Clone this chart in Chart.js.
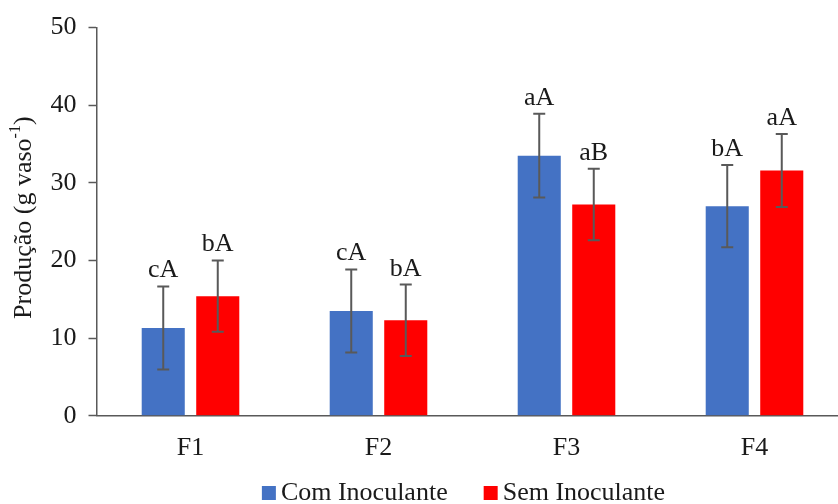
<!DOCTYPE html>
<html>
<head>
<meta charset="utf-8">
<script src="https://cdn.jsdelivr.net/npm/chart.js@4"></script>
<style>
html,body{margin:0;padding:0;background:#fff;overflow:hidden;width:838px;height:504px;}
#wrap{width:850px;height:504px;}
</style>
</head>
<body>
<div id="wrap"><canvas id="c" width="850" height="504"></canvas></div>
<script>
const categories = ['F1', 'F2', 'F3', 'F4'];
const comValues = [11.3, 13.5, 33.5, 27.0];
const comErrors = [5.35, 5.35, 5.4, 5.3];
const semValues = [15.4, 12.3, 27.2, 31.6];
const semErrors = [4.6, 4.6, 4.6, 4.7];
const comLetters = ['cA', 'cA', 'aA', 'bA'];
const semLetters = ['bA', 'bA', 'aB', 'aA'];
const yTicks = [0, 10, 20, 30, 40, 50];
const seriesNames = ['Com Inoculante', 'Sem Inoculante'];

const FONT = "'Liberation Serif', 'Times New Roman', serif";
const TXT = '#1a1a1a';
const AXIS = '#595959';
const BLUE = '#4472C4';
const RED = '#FF0000';

const errs = [comErrors, semErrors];
const letters = [comLetters, semLetters];

const overlay = {
  id: 'overlay',
  afterDatasetsDraw(chart) {
    const ctx = chart.ctx;
    const y = chart.scales.y;
    ctx.save();
    chart.data.datasets.forEach((ds, di) => {
      const meta = chart.getDatasetMeta(di);
      meta.data.forEach((bar, i) => {
        const v = ds.data[i];
        const e = errs[di][i];
        const yt = y.getPixelForValue(v + e);
        const yb = y.getPixelForValue(v - e);
        const x = bar.x;
        ctx.strokeStyle = AXIS;
        ctx.lineWidth = 2;
        ctx.beginPath();
        ctx.moveTo(x, yt); ctx.lineTo(x, yb);
        ctx.moveTo(x - 6, yt); ctx.lineTo(x + 6, yt);
        ctx.moveTo(x - 6, yb); ctx.lineTo(x + 6, yb);
        ctx.stroke();
        ctx.fillStyle = TXT;
        ctx.font = '26px ' + FONT;
        ctx.textAlign = 'center';
        ctx.textBaseline = 'alphabetic';
        ctx.fillText(letters[di][i], x, yt - 9);
      });
    });
    ctx.restore();
  },
  afterDraw(chart) {
    const ctx = chart.ctx;
    const a = chart.chartArea;
    ctx.save();
    // Y axis title with superscript
    ctx.translate(24, (a.top + a.bottom) / 2 - 4);
    ctx.rotate(-Math.PI / 2);
    ctx.fillStyle = TXT;
    ctx.textBaseline = 'middle';
    ctx.textAlign = 'left';
    const main = 'Produção (g vaso';
    const sup = '-1';
    const end = ')';
    ctx.font = '26px ' + FONT;
    const w1 = ctx.measureText(main).width;
    const w3 = ctx.measureText(end).width;
    ctx.font = '16px ' + FONT;
    const w2 = ctx.measureText(sup).width;
    const total = w1 + w2 + w3;
    let x = -total / 2;
    ctx.font = '26px ' + FONT;
    ctx.fillText(main, x, 0);
    x += w1;
    ctx.font = '16px ' + FONT;
    ctx.fillText(sup, x, -8);
    x += w2;
    ctx.font = '26px ' + FONT;
    ctx.fillText(end, x, 0);
    ctx.restore();

    // Legend
    ctx.save();
    ctx.font = '26px ' + FONT;
    ctx.textBaseline = 'alphabetic';
    ctx.textAlign = 'left';
    const sq = 14, gap = 5, spacing = 36;
    const tw = seriesNames.map(n => ctx.measureText(n).width);
    const totalW = sq + gap + tw[0] + spacing + sq + gap + tw[1];
    let lx = (a.left + a.right) / 2 - 9 - totalW / 2;
    const baseY = 500;
    const colors = [BLUE, RED];
    seriesNames.forEach((n, i) => {
      ctx.fillStyle = colors[i];
      ctx.fillRect(lx, baseY - 14, sq, sq);
      lx += sq + gap;
      ctx.fillStyle = TXT;
      ctx.fillText(n, lx, baseY);
      lx += tw[i] + spacing;
    });
    ctx.restore();
  }
};

new Chart(document.getElementById('c'), {
  type: 'bar',
  data: {
    labels: categories,
    datasets: [
      { label: seriesNames[0], data: comValues, backgroundColor: BLUE, categoryPercentage: 0.58, barPercentage: 0.79 },
      { label: seriesNames[1], data: semValues, backgroundColor: RED, categoryPercentage: 0.58, barPercentage: 0.79 }
    ]
  },
  options: {
    responsive: false,
    animation: false,
    devicePixelRatio: 1,
    layout: { padding: { top: 26.7, right: 1.5, left: 0, bottom: 0 } },
    plugins: { legend: { display: false }, tooltip: { enabled: false }, title: { display: false } },
    scales: {
      x: {
        grid: { display: true, drawOnChartArea: false, drawTicks: false },
        border: { color: AXIS, width: 1.5 },
        ticks: { color: TXT, font: { family: FONT, size: 26 }, padding: 17 },
        afterFit(s) { s.height = 88.3; }
      },
      y: {
        min: 0, max: 50,
        afterBuildTicks(s) { s.ticks = yTicks.map(v => ({ value: v })); },
        grid: { display: true, drawOnChartArea: false, drawTicks: true, tickLength: 8, color: AXIS, tickWidth: 1.5 },
        border: { color: AXIS, width: 1.5 },
        ticks: { color: TXT, font: { family: FONT, size: 26 }, padding: 12 },
        afterFit(s) { s.width = 96.5; }
      }
    }
  },
  plugins: [overlay]
});
</script>
</body>
</html>
